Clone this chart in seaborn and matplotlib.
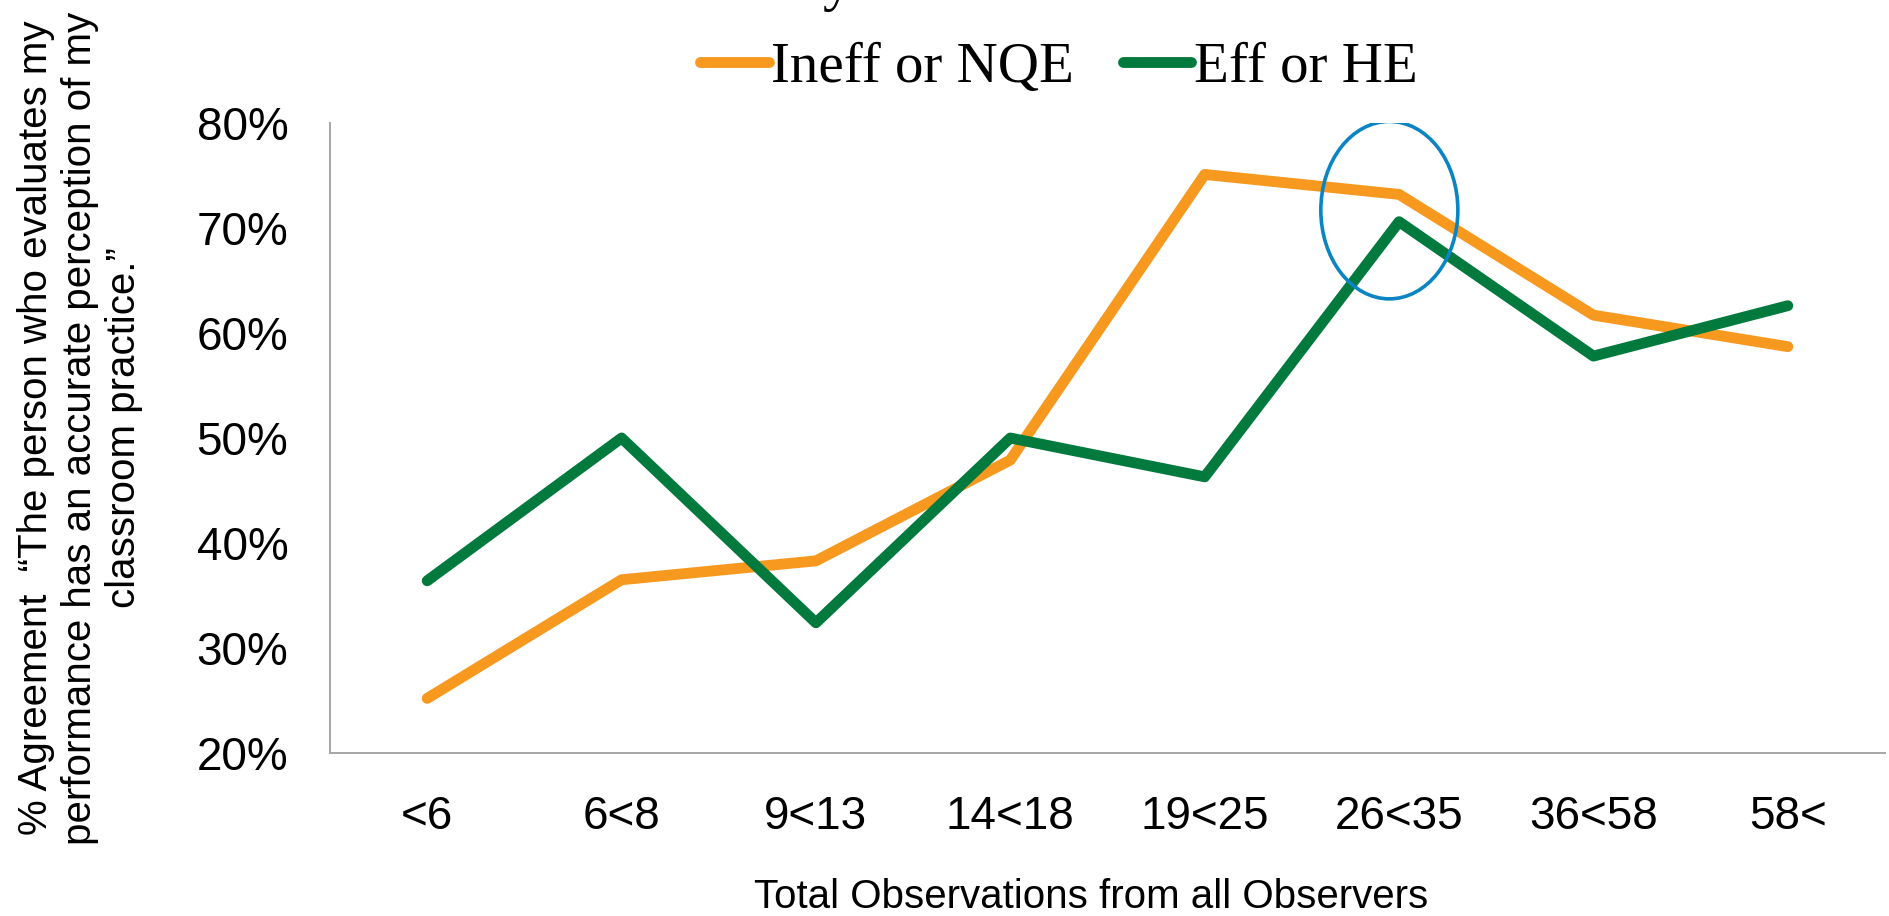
import matplotlib
matplotlib.use("Agg")
import matplotlib.pyplot as plt
from matplotlib.patches import Ellipse
import numpy as np
import pandas as pd
import seaborn as sns

# values
categories = ["<6", "6<8", "9<13", "14<18", "19<25", "26<35", "36<58", "58<"]
ineff_nqe = [25.2, 36.5, 38.3, 47.9, 75.1, 73.2, 61.7, 58.7]
eff_he = [36.4, 50.0, 32.4, 50.0, 46.3, 70.6, 57.8, 62.6]
series_names = ["Ineff or NQE", "Eff or HE"]
colors = ["#F7981F", "#027A3E"]
y_ticks = [20, 30, 40, 50, 60, 70, 80]

# ellipse highlight around 26<35 (data coords)
circle_center = (4.95, 71.7)
circle_size = (0.705, 16.9)

df = pd.DataFrame({
    "group": categories * 2,
    "pct": ineff_nqe + eff_he,
    "series": [series_names[0]] * len(categories) + [series_names[1]] * len(categories),
})

sns.set_style("white")
plt.rcParams["font.family"] = ["Liberation Sans", "DejaVu Sans"]
plt.rcParams["text.color"] = "black"
plt.rcParams["xtick.color"] = "black"
plt.rcParams["ytick.color"] = "black"

fig = plt.figure(figsize=(18.89, 9.16), dpi=100)
ax = fig.add_axes([330 / 1889, 1 - 753 / 916, (1885 - 330) / 1889, (753 - 123) / 916])

sns.lineplot(data=df, x="group", y="pct", hue="series", palette=colors, sort=False,
             linewidth=7.8, legend=False, ax=ax)
for ln in ax.lines:
    ln.set_solid_capstyle("round")
    ln.set_solid_joinstyle("round")

ax.add_patch(Ellipse(circle_center, circle_size[0], circle_size[1], fill=False,
                     edgecolor="#0B84C4", linewidth=2.6, zorder=5))

ax.set_xlim(-0.5, len(categories) - 0.5)
ax.set_ylim(20, 80)
ax.set_yticks(y_ticks)
ax.set_yticklabels([f"{t}%" for t in y_ticks])
ax.tick_params(axis="both", length=0, labelsize=33, labelcolor="black")
ax.tick_params(axis="x", pad=30)
ax.tick_params(axis="y", pad=30)
ax.set_xlabel("")
ax.set_ylabel("")
for side in ["top", "right"]:
    ax.spines[side].set_visible(False)
for side in ["left", "bottom"]:
    ax.spines[side].set_color("#A6A6A6")
    ax.spines[side].set_linewidth(1.4)

fig.text(1091 / 1889, 1 - 897 / 916, "Total Observations from all Observers",
         ha="center", va="center", fontsize=29, color="black")
fig.text(80 / 1889, 1 - 428 / 916,
         "% Agreement  \u201cThe person who evaluates my\n"
         "performance has an accurate perception of my\n"
         "classroom practice.\u201d",
         ha="center", va="center", rotation=90, fontsize=29, linespacing=1.2,
         color="black")

# cut-off title at the very top
fig.text(837 / 1889, 1.0, "y", ha="center", va="baseline", fontsize=41,
         family=["Liberation Serif", "DejaVu Serif"], color="black")

leg = fig.legend(handles=ax.lines[:2], labels=series_names, loc="center",
                 bbox_to_anchor=(1059 / 1889, 1 - 68 / 916), ncol=2, frameon=False,
                 prop={"family": "Liberation Serif", "size": 41},
                 handlelength=1.2, handletextpad=0.05, columnspacing=0.85)
for t in leg.get_texts():
    t.set_color("black")

fig.savefig("out.png", dpi=100)
